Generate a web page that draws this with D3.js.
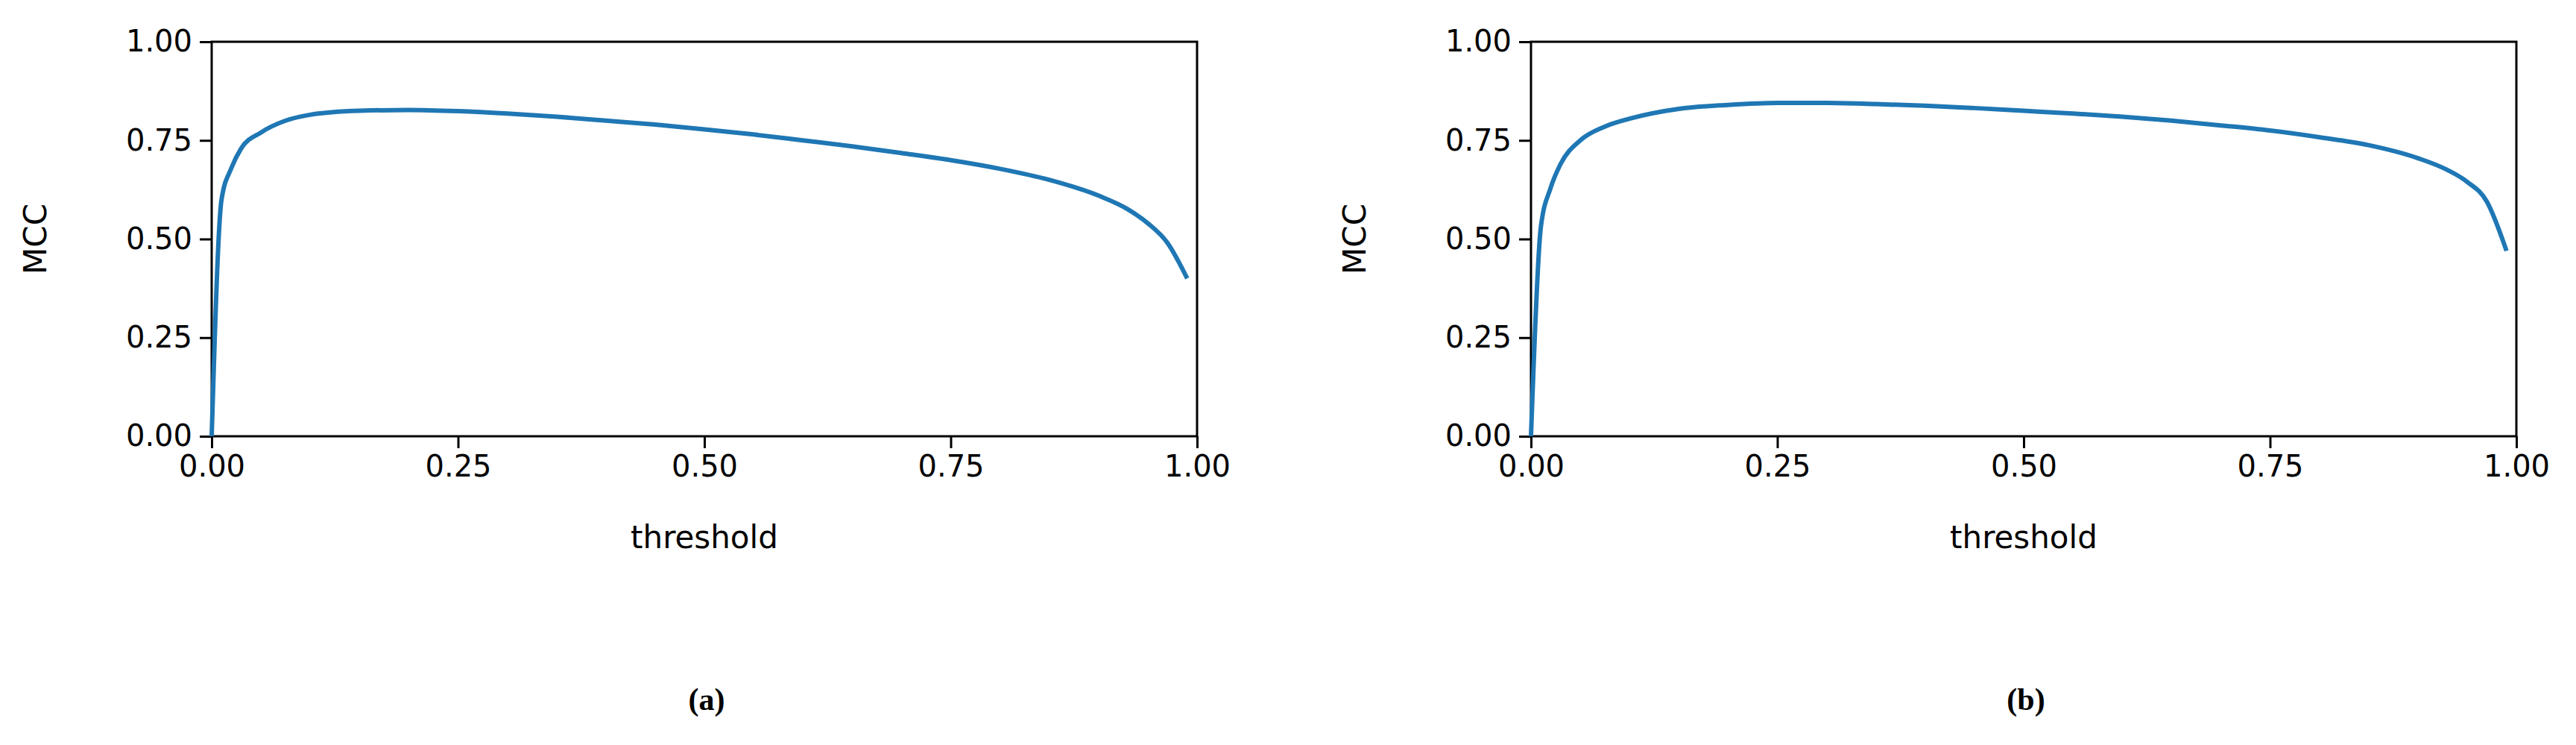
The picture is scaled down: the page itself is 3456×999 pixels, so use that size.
<!DOCTYPE html>
<html>
<head>
<meta charset="utf-8">
<style>
  body { margin: 0; background: #fff; }
  text { font-family: "DejaVu Sans", sans-serif; }
</style>
</head>
<body>
<div id="plot"></div>
<script src="https://cdn.jsdelivr.net/npm/d3@7"></script>
<script>
// threshold vs MCC
let thresholdA = [0, 0.01, 0.02, 0.03, 0.05, 0.075, 0.1, 0.15, 0.2, 0.25, 0.3, 0.35, 0.4, 0.45, 0.5, 0.55, 0.6, 0.65, 0.7, 0.75, 0.8, 0.85, 0.9, 0.93, 0.95, 0.97, 0.99];
let mccA = [0, 0.6, 0.68, 0.73, 0.77, 0.80, 0.815, 0.825, 0.827, 0.824, 0.818, 0.81, 0.80, 0.79, 0.778, 0.765, 0.75, 0.735, 0.718, 0.70, 0.678, 0.65, 0.61, 0.575, 0.54, 0.49, 0.40];
let thresholdB = thresholdA;
let mccB = [0, 0.53, 0.63, 0.69, 0.75, 0.785, 0.805, 0.83, 0.84, 0.845, 0.845, 0.842, 0.838, 0.832, 0.825, 0.818, 0.81, 0.80, 0.788, 0.775, 0.758, 0.738, 0.705, 0.675, 0.645, 0.595, 0.47];
let ticks = [0, 0.25, 0.5, 0.75, 1];
let captions = ['(a)', '(b)'];

let svg = d3.select('#plot').append('svg')
  .attr('width', 3456).attr('height', 999);

let panels = [
  {left: 284, xs: thresholdA, ys: mccA, cap: captions[0]},
  {left: 2054, xs: thresholdB, ys: mccB, cap: captions[1]}
];
let marginTop = 56, width = 1322, height = 529;

panels.forEach(function(p) {
  let g = svg.append('g').attr('transform', 'translate(' + p.left + ',' + marginTop + ')');
  let x = d3.scaleLinear().domain([0, 1]).range([0, width]);
  let y = d3.scaleLinear().domain([0, 1]).range([height, 0]);

  let xAxis = g.append('g').attr('transform', 'translate(0,' + height + ')')
    .call(d3.axisBottom(x).tickValues(ticks).tickFormat(d3.format('.2f')).tickSize(16).tickPadding(10));
  let yAxis = g.append('g')
    .call(d3.axisLeft(y).tickValues(ticks).tickFormat(d3.format('.2f')).tickSize(16).tickPadding(10));
  [xAxis, yAxis].forEach(a => {
    a.select('.domain').remove();
    a.selectAll('line').attr('stroke', '#000').attr('stroke-width', 3);
    a.selectAll('text').attr('font-size', 40).attr('fill', '#000')
      .style('font-family', '"DejaVu Sans", sans-serif');
  });

  g.append('rect').attr('width', width).attr('height', height)
    .attr('fill', 'none').attr('stroke', '#000').attr('stroke-width', 3);

  let line = d3.line().x((d, i) => x(p.xs[i])).y(d => y(d)).curve(d3.curveMonotoneX);
  g.append('path').datum(p.ys).attr('d', line)
    .attr('fill', 'none').attr('stroke', '#1f77b4').attr('stroke-width', 6);

  g.append('text').attr('x', width / 2).attr('y', height + 150)
    .attr('text-anchor', 'middle').attr('font-size', 42).text('threshold');
  g.append('text').attr('transform', 'translate(-222,' + (height / 2) + ') rotate(-90)')
    .attr('text-anchor', 'middle').attr('font-size', 42).text('MCC');
  g.append('text').attr('x', width / 2 + 3).attr('y', 896)
    .attr('text-anchor', 'middle').attr('font-size', 42).attr('font-weight', 'bold')
    .style('font-family', '"Liberation Serif", serif').text(p.cap);
});
</script>
</body>
</html>
